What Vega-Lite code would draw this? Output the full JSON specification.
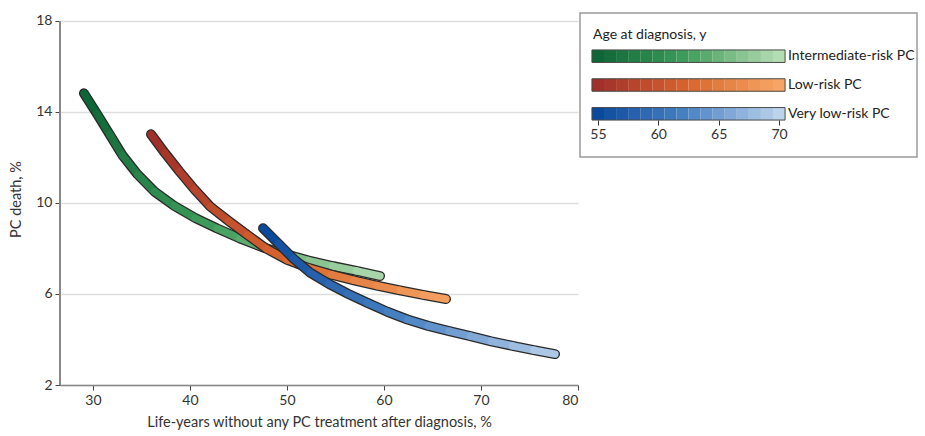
{
  "$schema": "https://vega.github.io/schema/vega-lite/v6.json",
  "padding": {"left": 8, "top": 12, "right": 5, "bottom": 2},
  "background": "white",
  "config": {
    "font": "Lato",
    "axis": {"labelFont": "Lato", "titleFont": "Lato", "labelFontSize": 14, "titleFontSize": 14.5, "titleFontWeight": "normal", "labelColor": "#333", "titleColor": "#333"},
    "text": {"font": "Lato"},
    "title": {"font": "Lato"},
    "concat": {"spacing": 0}
  },
  "datasets": {
    "curves": [
      {"risk": "Intermediate-risk PC", "age": 55, "x": 29.07, "y": 14.82},
      {"risk": "Intermediate-risk PC", "age": 56, "x": 30.41, "y": 13.92},
      {"risk": "Intermediate-risk PC", "age": 57, "x": 31.73, "y": 13.01},
      {"risk": "Intermediate-risk PC", "age": 58, "x": 33.03, "y": 12.10},
      {"risk": "Intermediate-risk PC", "age": 59, "x": 34.59, "y": 11.26},
      {"risk": "Intermediate-risk PC", "age": 60, "x": 36.34, "y": 10.50},
      {"risk": "Intermediate-risk PC", "age": 61, "x": 38.36, "y": 9.88},
      {"risk": "Intermediate-risk PC", "age": 62, "x": 40.54, "y": 9.34},
      {"risk": "Intermediate-risk PC", "age": 63, "x": 42.81, "y": 8.88},
      {"risk": "Intermediate-risk PC", "age": 64, "x": 45.11, "y": 8.45},
      {"risk": "Intermediate-risk PC", "age": 65, "x": 47.44, "y": 8.06},
      {"risk": "Intermediate-risk PC", "age": 66, "x": 49.83, "y": 7.75},
      {"risk": "Intermediate-risk PC", "age": 67, "x": 52.24, "y": 7.47},
      {"risk": "Intermediate-risk PC", "age": 68, "x": 54.69, "y": 7.23},
      {"risk": "Intermediate-risk PC", "age": 69, "x": 57.15, "y": 7.02},
      {"risk": "Intermediate-risk PC", "age": 70, "x": 59.59, "y": 6.79},
      {"risk": "Low-risk PC", "age": 55, "x": 35.98, "y": 13.02},
      {"risk": "Low-risk PC", "age": 56, "x": 37.43, "y": 12.19},
      {"risk": "Low-risk PC", "age": 57, "x": 38.91, "y": 11.39},
      {"risk": "Low-risk PC", "age": 58, "x": 40.46, "y": 10.60},
      {"risk": "Low-risk PC", "age": 59, "x": 42.10, "y": 9.84},
      {"risk": "Low-risk PC", "age": 60, "x": 43.99, "y": 9.21},
      {"risk": "Low-risk PC", "age": 61, "x": 45.93, "y": 8.59},
      {"risk": "Low-risk PC", "age": 62, "x": 47.89, "y": 7.99},
      {"risk": "Low-risk PC", "age": 63, "x": 50.01, "y": 7.50},
      {"risk": "Low-risk PC", "age": 64, "x": 52.27, "y": 7.14},
      {"risk": "Low-risk PC", "age": 65, "x": 54.58, "y": 6.85},
      {"risk": "Low-risk PC", "age": 66, "x": 56.92, "y": 6.60},
      {"risk": "Low-risk PC", "age": 67, "x": 59.28, "y": 6.37},
      {"risk": "Low-risk PC", "age": 68, "x": 61.64, "y": 6.16},
      {"risk": "Low-risk PC", "age": 69, "x": 64.02, "y": 5.96},
      {"risk": "Low-risk PC", "age": 70, "x": 66.39, "y": 5.78},
      {"risk": "Very low-risk PC", "age": 55, "x": 47.53, "y": 8.89},
      {"risk": "Very low-risk PC", "age": 56, "x": 49.11, "y": 8.22},
      {"risk": "Very low-risk PC", "age": 57, "x": 50.68, "y": 7.55},
      {"risk": "Very low-risk PC", "age": 58, "x": 52.39, "y": 6.94},
      {"risk": "Very low-risk PC", "age": 59, "x": 54.30, "y": 6.45},
      {"risk": "Very low-risk PC", "age": 60, "x": 56.28, "y": 6.01},
      {"risk": "Very low-risk PC", "age": 61, "x": 58.30, "y": 5.61},
      {"risk": "Very low-risk PC", "age": 62, "x": 60.34, "y": 5.22},
      {"risk": "Very low-risk PC", "age": 63, "x": 62.42, "y": 4.88},
      {"risk": "Very low-risk PC", "age": 64, "x": 64.56, "y": 4.60},
      {"risk": "Very low-risk PC", "age": 65, "x": 66.72, "y": 4.37},
      {"risk": "Very low-risk PC", "age": 66, "x": 68.90, "y": 4.15},
      {"risk": "Very low-risk PC", "age": 67, "x": 71.06, "y": 3.92},
      {"risk": "Very low-risk PC", "age": 68, "x": 73.25, "y": 3.72},
      {"risk": "Very low-risk PC", "age": 69, "x": 75.44, "y": 3.53},
      {"risk": "Very low-risk PC", "age": 70, "x": 77.63, "y": 3.36}
    ]
  },
  "hconcat": [
    {
      "width": 518,
      "height": 372,
      "view": {"stroke": null},
      "data": {"name": "curves"},
      "encoding": {
        "x": {"field": "x", "type": "quantitative", "scale": {"domain": [26.6, 80], "nice": false, "zero": false},
              "axis": {"values": [30, 40, 50, 60, 70, 80], "title": "Life-years without any PC treatment after diagnosis, %", "grid": false, "domainColor": "#888", "domainWidth": 1.5, "tickColor": "#444", "tickSize": 5, "labelPadding": 3, "titlePadding": 8}},
        "y": {"field": "y", "type": "quantitative", "scale": {"domain": [2, 18.351], "nice": false, "zero": false},
              "axis": {"values": [2, 6, 10, 14, 18], "title": "PC death, %", "grid": true, "gridColor": "#dedede", "gridWidth": 1.5, "domain": false, "tickColor": "#444", "tickSize": 5, "labelPadding": 3, "titlePadding": 12}}
      },
      "layer": [
        {
          "mark": {"type": "rule", "color": "#888", "strokeWidth": 1.5},
          "encoding": {"x": {"datum": 26.6}, "y": {"datum": 2}, "y2": {"datum": 18}}
        },
        {
          "transform": [{"filter": "datum.risk === 'Intermediate-risk PC'"}],
          "mark": {"type": "line", "color": "#2a2a2a", "strokeWidth": 10, "strokeCap": "round", "strokeJoin": "round"},
          "encoding": {"order": {"field": "age"}}
        },
        {
          "transform": [
            {"filter": "datum.risk === 'Intermediate-risk PC'"},
            {"window": [{"op": "lead", "field": "x", "as": "xn"}, {"op": "lead", "field": "y", "as": "yn"}], "sort": [{"field": "age", "order": "ascending"}]},
            {"filter": "datum.xn != null"}
          ],
          "mark": {"type": "rule", "strokeWidth": 7.4, "strokeCap": "round"},
          "encoding": {
            "x2": {"field": "xn"}, "y2": {"field": "yn"},
            "color": {"field": "age", "type": "quantitative", "scale": {"domain": [55, 70], "range": ["#0c6636", "#3f9f5e", "#b5ddb5"]}, "legend": null}
          }
        },
        {
          "transform": [{"filter": "datum.risk === 'Low-risk PC'"}],
          "mark": {"type": "line", "color": "#2a2a2a", "strokeWidth": 10, "strokeCap": "round", "strokeJoin": "round"},
          "encoding": {"order": {"field": "age"}}
        },
        {
          "transform": [
            {"filter": "datum.risk === 'Low-risk PC'"},
            {"window": [{"op": "lead", "field": "x", "as": "xn"}, {"op": "lead", "field": "y", "as": "yn"}], "sort": [{"field": "age", "order": "ascending"}]},
            {"filter": "datum.xn != null"}
          ],
          "mark": {"type": "rule", "strokeWidth": 7.4, "strokeCap": "round"},
          "encoding": {
            "x2": {"field": "xn"}, "y2": {"field": "yn"},
            "color": {"field": "age", "type": "quantitative", "scale": {"domain": [55, 70], "range": ["#a0302a", "#d8662e", "#f7a566"]}, "legend": null}
          }
        },
        {
          "transform": [{"filter": "datum.risk === 'Very low-risk PC'"}],
          "mark": {"type": "line", "color": "#2a2a2a", "strokeWidth": 10, "strokeCap": "round", "strokeJoin": "round"},
          "encoding": {"order": {"field": "age"}}
        },
        {
          "transform": [
            {"filter": "datum.risk === 'Very low-risk PC'"},
            {"window": [{"op": "lead", "field": "x", "as": "xn"}, {"op": "lead", "field": "y", "as": "yn"}], "sort": [{"field": "age", "order": "ascending"}]},
            {"filter": "datum.xn != null"}
          ],
          "mark": {"type": "rule", "strokeWidth": 7.4, "strokeCap": "round"},
          "encoding": {
            "x2": {"field": "xn"}, "y2": {"field": "yn"},
            "color": {"field": "age", "type": "quantitative", "scale": {"domain": [55, 70], "range": ["#0a4a9c", "#4a84c4", "#bcd3ec"]}, "legend": null}
          }
        }
      ],
      "resolve": {"scale": {"color": "independent"}}
    },
    {
      "width": 337,
      "height": 144,
      "title": {"text": "Age at diagnosis, y", "anchor": "start", "orient": "top", "offset": -25, "dx": 13, "dy": 15, "baseline": "alphabetic", "fontSize": 14, "fontWeight": "normal", "color": "#222"},
      "view": {"stroke": "#9a9a9a", "strokeWidth": 1.5},
      "data": {"name": "curves"},
      "encoding": {
        "x": {"field": "age", "type": "quantitative", "scale": {"domain": [53.51, 81.43], "nice": false, "zero": false},
              "axis": {"values": [55, 60, 65, 70], "title": null, "grid": false, "domain": false, "offset": -37, "tickSize": 5, "tickColor": "#333", "labelPadding": 2}},
        "y": {"field": "risk", "type": "nominal", "scale": {"domain": ["t", "Intermediate-risk PC", "Low-risk PC", "Very low-risk PC", "a"], "paddingInner": 0, "paddingOuter": 0}, "axis": null}
      },
      "layer": [
        {
          "transform": [{"filter": "datum.risk === 'Intermediate-risk PC'"}],
          "mark": {"type": "bar", "height": 12.5, "xOffset": -6.04, "x2Offset": 6.04},
          "encoding": {"x2": {"field": "age"}, "color": {"field": "age", "type": "quantitative", "scale": {"domain": [55, 70], "range": ["#0c6636", "#3f9f5e", "#b5ddb5"]}, "legend": null}}
        },
        {
          "transform": [{"filter": "datum.risk === 'Low-risk PC'"}],
          "mark": {"type": "bar", "height": 12.5, "xOffset": -6.04, "x2Offset": 6.04},
          "encoding": {"x2": {"field": "age"}, "color": {"field": "age", "type": "quantitative", "scale": {"domain": [55, 70], "range": ["#a0302a", "#d8662e", "#f7a566"]}, "legend": null}}
        },
        {
          "transform": [{"filter": "datum.risk === 'Very low-risk PC'"}],
          "mark": {"type": "bar", "height": 12.5, "xOffset": -6.04, "x2Offset": 6.04},
          "encoding": {"x2": {"field": "age"}, "color": {"field": "age", "type": "quantitative", "scale": {"domain": [55, 70], "range": ["#0a4a9c", "#4a84c4", "#bcd3ec"]}, "legend": null}}
        },
        {
          "transform": [{"aggregate": [{"op": "min", "field": "age", "as": "a0"}, {"op": "max", "field": "age", "as": "a1"}], "groupby": ["risk"]}],
          "mark": {"type": "bar", "height": 12.5, "xOffset": -6.04, "x2Offset": 6.04, "fillOpacity": 0, "stroke": "#4a4a4a", "strokeWidth": 1},
          "encoding": {"x": {"field": "a0", "type": "quantitative"}, "x2": {"field": "a1"}}
        },
        {
          "transform": [{"aggregate": [{"op": "max", "field": "age", "as": "a1"}], "groupby": ["risk"]}],
          "mark": {"type": "text", "align": "left", "baseline": "middle", "dx": 9, "fontSize": 14, "color": "#222"},
          "encoding": {"x": {"field": "a1", "type": "quantitative"}, "text": {"field": "risk"}}
        }
      ],
      "resolve": {"scale": {"color": "independent"}}
    }
  ]
}
